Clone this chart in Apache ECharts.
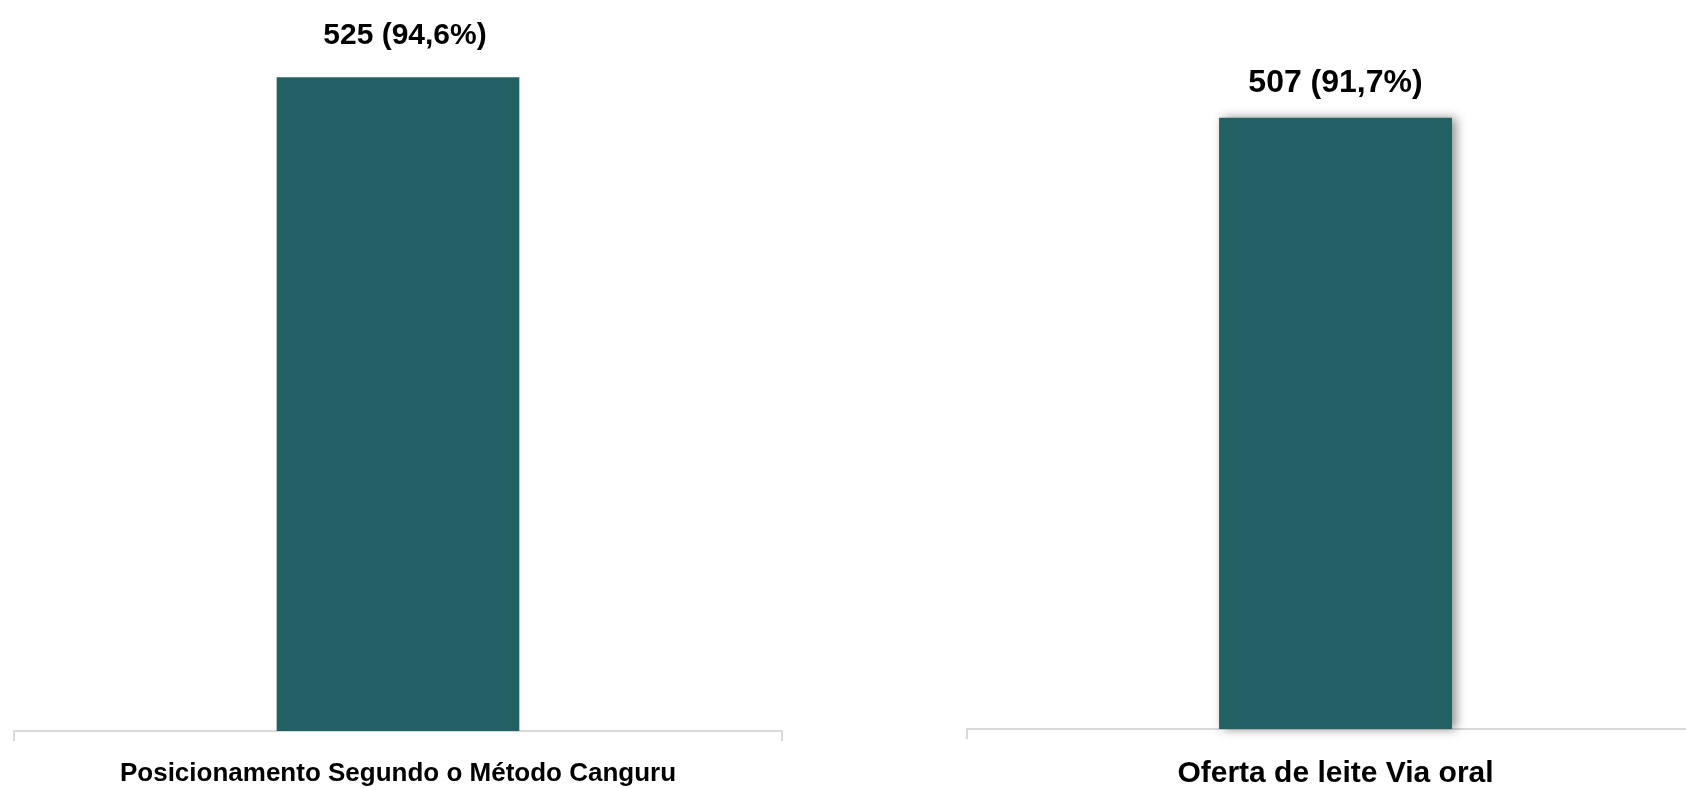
<!DOCTYPE html>
<html>
<head>
<meta charset="utf-8">
<script src="https://cdn.jsdelivr.net/npm/echarts@6/dist/echarts.min.js"></script>
<style>
html,body{margin:0;padding:0;background:#fff;}
#c{width:1686px;height:788px;}
</style>
</head>
<body>
<div id="c"></div>
<script>
const categories = ['Posicionamento Segundo o Método Canguru', 'Oferta de leite Via oral'];
const counts = [525, 507];
const percents = ['94,6', '91,7'];
const axisMax = [571, 588];

const chart = echarts.init(document.getElementById('c'));
const barColor = '#216164';
const axisLine = {show: true, lineStyle: {color: '#d9d9d9', width: 2}};
const axisTick = {show: true, length: 10, lineStyle: {color: '#d9d9d9', width: 2}};

const grids = [
  {left: 14, width: 768, top: 20, bottom: 57, containLabel: false, outerBoundsMode: 'none'},
  {left: 967, width: 737, top: 20, bottom: 59, containLabel: false, outerBoundsMode: 'none'}
];
const labelFonts = [
  {fontFamily: '"Liberation Sans", Arial', fontSize: 30, fontWeight: 'bold'},
  {fontFamily: '"Liberation Sans", Arial', fontSize: 32, fontWeight: 'bold'}
];
const catFonts = [
  {fontFamily: '"Liberation Sans", Arial', fontSize: 26, fontWeight: 'bold'},
  {fontFamily: '"Liberation Sans", Arial', fontSize: 30, fontWeight: 'bold'}
];

chart.setOption({
  animation: false,
  grid: grids,
  xAxis: categories.map((c, i) => ({
    type: 'category', gridIndex: i, data: [c],
    axisLine: axisLine, axisTick: axisTick,
    axisLabel: Object.assign({color: '#000', margin: 30, interval: 0, hideOverlap: false}, catFonts[i])
  })),
  yAxis: categories.map((c, i) => ({
    type: 'value', gridIndex: i, min: 0, max: axisMax[i], show: false,
    splitLine: {show: false}
  })),
  series: categories.map((c, i) => ({
    type: 'bar', xAxisIndex: i, yAxisIndex: i,
    data: [counts[i]],
    barWidth: '31.6%',
    itemStyle: i === 1 ? {color: barColor, shadowColor: 'rgba(0,0,0,0.45)', shadowBlur: 10, shadowOffsetX: 4, shadowOffsetY: 0} : {color: barColor},
    label: Object.assign({
      show: true, position: 'top', color: '#000', distance: i === 0 ? 27 : 18,
      offset: i === 0 ? [7, 0] : [0, 0],
      formatter: () => counts[i] + ' (' + percents[i] + '%)'
    }, labelFonts[i])
  }))
});
</script>
</body>
</html>
